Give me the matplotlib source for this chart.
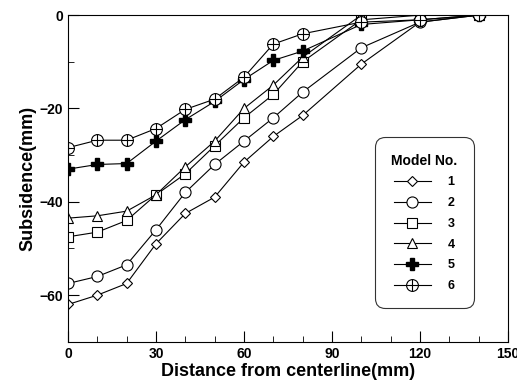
import matplotlib.pyplot as plt
from matplotlib.legend_handler import HandlerTuple
from matplotlib.ticker import MultipleLocator

plt.rcParams['font.family'] = ['Liberation Sans', 'DejaVu Sans']
plt.rcParams['font.weight'] = 'bold'

# distance from centerline (mm)
x = [0, 10, 20, 30, 40, 50, 60, 70, 80, 100, 120, 140]

# subsidence (mm) for each model
model1 = [-62, -60, -57.5, -49, -42.5, -39, -31.5, -26, -21.5, -10.5, -1.5, 0]
model2 = [-57.5, -56, -53.5, -46, -38, -32, -27, -22, -16.5, -7, -1.5, 0]
model3 = [-47.5, -46.5, -44, -38.5, -34, -28, -22, -17, -10, -1, 0, 0]
model4 = [-43.5, -43, -42, -38.5, -32.5, -27, -20, -15, -9, 0, 0, 0]
model5 = [-33, -32, -31.8, -27, -22.4, -18.5, -13.8, -9.7, -7.7, -2, -1, 0]
model6 = [-28.4, -26.8, -26.8, -24.3, -20.2, -18, -13.3, -6.2, -4, -1.5, -1, 0]
labels = ['1', '2', '3', '4', '5', '6']

fig = plt.figure(figsize=(5.17, 3.88), dpi=100)
ax = fig.add_axes([0.1315, 0.119, 0.851, 0.842])

hollow = dict(color='black', lw=0.8, mfc='white', mec='black', mew=0.8)
h1, = ax.plot(x, model1, marker='D', ms=5.5, **hollow)
h2, = ax.plot(x, model2, marker='o', ms=8, **hollow)
h3, = ax.plot(x, model3, marker='s', ms=7.5, **hollow)
h4, = ax.plot(x, model4, marker='^', ms=7, **hollow)
h5, = ax.plot(x, model5, marker='P', ms=8.5, color='black', lw=0.8, mfc='black', mec='black')
h6, = ax.plot(x, model6, marker='o', ms=8.5, **hollow)
h6b, = ax.plot(x, model6, marker='+', ms=8.5, ls='none', mec='black', mew=0.8)

ax.set_xlim(0, 150)
ax.set_ylim(-70, 0)
ax.xaxis.set_major_locator(MultipleLocator(30))
ax.xaxis.set_minor_locator(MultipleLocator(10))
ax.yaxis.set_major_locator(MultipleLocator(20))
ax.yaxis.set_minor_locator(MultipleLocator(10))
ax.tick_params(which='both', direction='in', labelsize=10)
ax.tick_params(which='major', length=8)
ax.tick_params(which='minor', length=4)

ax.set_xlabel('Distance from centerline(mm)', fontsize=13, fontweight='bold', labelpad=2)
ax.set_ylabel('Subsidence(mm)', fontsize=13, fontweight='bold', labelpad=2)

leg = ax.legend([h1, h2, h3, h4, h5, (h6, h6b)], labels, title='Model No.',
                handler_map={tuple: HandlerTuple(ndivide=1)},
                loc='lower right', bbox_to_anchor=(0.936, 0.083), frameon=True,
                fancybox=True, edgecolor='black', fontsize=9, title_fontsize=10,
                handlelength=3, labelspacing=0.7, borderpad=1.3, handletextpad=1.3)
leg.get_frame().set_linewidth(0.8)
leg.get_frame().set_boxstyle('round', pad=0, rounding_size=0.8)
leg.get_title().set_fontweight('bold')

plt.savefig('out.png', dpi=100)
